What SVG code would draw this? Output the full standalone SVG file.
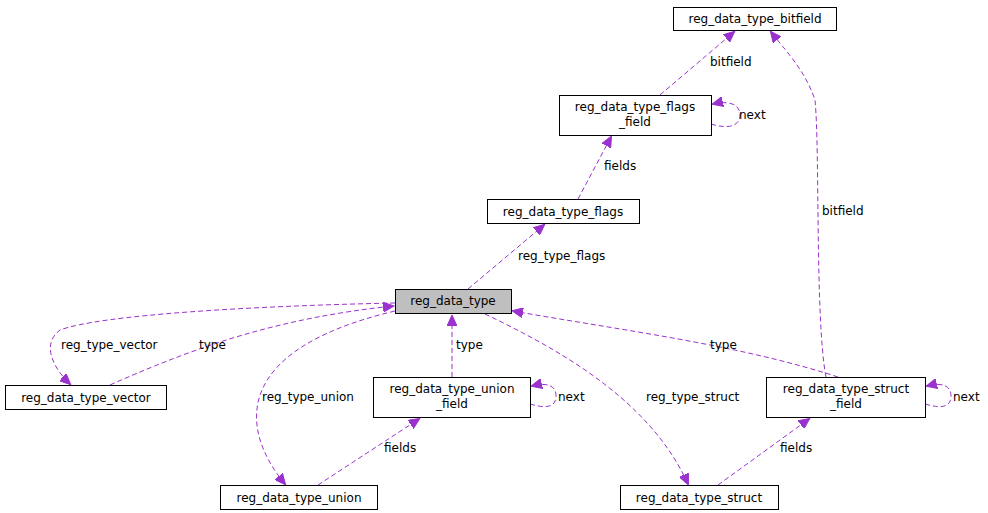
<svg xmlns="http://www.w3.org/2000/svg" width="988" height="513" viewBox="0 0 988 513">
<style>
.n rect{fill:#fff;stroke:#000;stroke-width:1}
.n text,.l{font-family:"DejaVu Sans",sans-serif;font-size:12px;fill:#000}
.n text{text-anchor:middle}
.e path{fill:none;stroke:#9a32cd;stroke-width:1;stroke-dasharray:5,3;marker-end:url(#a)}
</style>
<defs><marker id="a" markerWidth="12" markerHeight="10" refX="10" refY="5" orient="auto" markerUnits="userSpaceOnUse"><path d="M0,0 L11,5 L0,10 Z" fill="#9a32cd" stroke="#9a32cd"/></marker></defs>
<rect width="988" height="513" fill="#fff"/>
<g class="e">
<path d="M660,95 L734,32"/>
<path d="M711,124 C730,130 740,125 740,115 C740,105 730,100 713,104"/>
<path d="M578,199 L611,137"/>
<path d="M468,289 L544,225"/>
<path d="M110,385 C200,345 280,318 393,306"/>
<path d="M395,303 C250,306 100,315 60,330 C40,345 55,370 70,384"/>
<path d="M452,377 L452,316"/>
<path d="M395,311 C230,350 240,430 285,484"/>
<path d="M318,485 L419,419"/>
<path d="M530,404 C550,410 556,405 556,396 C556,386 548,382 532,386"/>
<path d="M485,314 C560,350 650,400 688,484"/>
<path d="M718,485 L809,419"/>
<path d="M838,377 C740,345 620,330 513,311"/>
<path d="M826,377 C815,320 820,150 815,100 C805,70 785,50 771,32"/>
<path d="M925,404 C945,410 951,405 951,396 C951,386 943,382 927,386"/>
</g>
<g class="l">
<text x="710" y="66">bitfield</text>
<text x="739" y="119">next</text>
<text x="604" y="170">fields</text>
<text x="518" y="260">reg_type_flags</text>
<text x="61" y="349">reg_type_vector</text>
<text x="199" y="349">type</text>
<text x="456" y="349">type</text>
<text x="262" y="401">reg_type_union</text>
<text x="558" y="401">next</text>
<text x="384" y="452">fields</text>
<text x="646" y="401">reg_type_struct</text>
<text x="780" y="452">fields</text>
<text x="710" y="349">type</text>
<text x="822" y="215">bitfield</text>
<text x="953" y="401">next</text>
</g>
<g id="bitfield" class="n"><rect x="673.5" y="7.5" width="163" height="23"/><text x="755" y="23">reg_data_type_bitfield</text></g>
<g id="flags_field" class="n"><rect x="559.5" y="95.5" width="152" height="40"/><text x="635" y="111">reg_data_type_flags</text><text x="635" y="126">_field</text></g>
<g id="flags" class="n"><rect x="487.5" y="199.5" width="152" height="24"/><text x="563" y="216">reg_data_type_flags</text></g>
<g id="reg_data_type" class="n"><rect x="395.5" y="289.5" width="116" height="24" style="fill:#bfbfbf"/><text x="453" y="305">reg_data_type</text></g>
<g id="vector" class="n"><rect x="5.5" y="385.5" width="161" height="24"/><text x="86" y="402">reg_data_type_vector</text></g>
<g id="union_field" class="n"><rect x="373.5" y="377.5" width="157" height="40"/><text x="452" y="393">reg_data_type_union</text><text x="452" y="408">_field</text></g>
<g id="union" class="n"><rect x="220.5" y="485.5" width="157" height="24"/><text x="299" y="502">reg_data_type_union</text></g>
<g id="struct" class="n"><rect x="620.5" y="485.5" width="158" height="24"/><text x="699" y="502">reg_data_type_struct</text></g>
<g id="struct_field" class="n"><rect x="766.5" y="377.5" width="159" height="40"/><text x="846" y="393">reg_data_type_struct</text><text x="846" y="408">_field</text></g>
</svg>
